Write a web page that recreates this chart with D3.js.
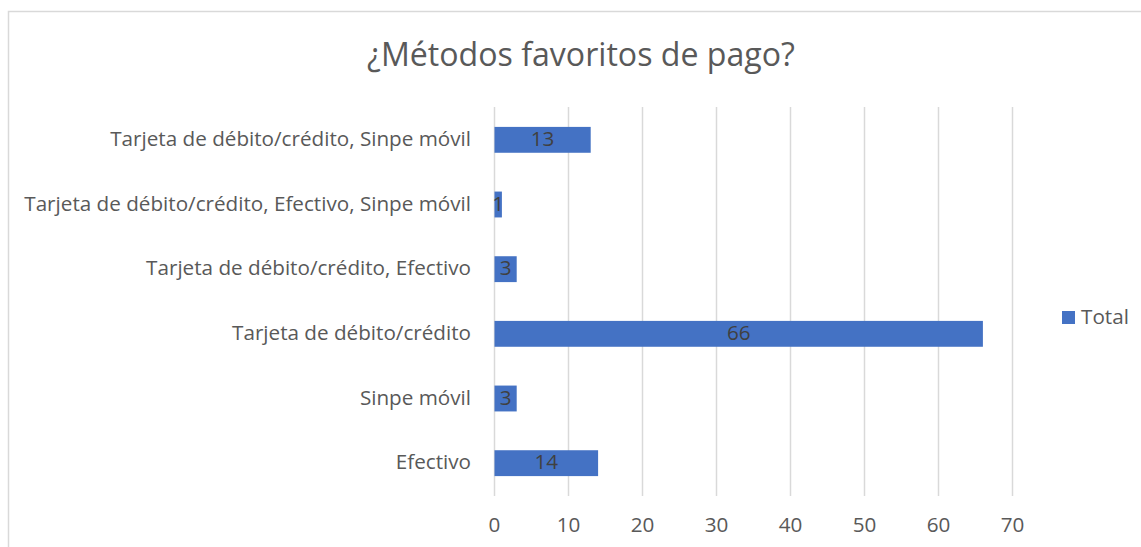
<!DOCTYPE html>
<html><head><meta charset="utf-8">
<script src="https://cdn.jsdelivr.net/npm/d3@7"></script>
<style>body{margin:0;background:#fff}svg{display:block;font-family:"Open Sans",sans-serif}</style>
</head><body>
<script>
const categories = ["Tarjeta de débito/crédito, Sinpe móvil","Tarjeta de débito/crédito, Efectivo, Sinpe móvil","Tarjeta de débito/crédito, Efectivo","Tarjeta de débito/crédito","Sinpe móvil","Efectivo"];
const values = [13,1,3,66,3,14];
const ticks = [0,10,20,30,40,50,60,70];
const seriesName = "Total";
const title = "¿Métodos favoritos de pago?";

const W=1141,H=547;
const svg=d3.select("body").append("svg").attr("width",W).attr("height",H);
svg.append("rect").attr("x",8.5).attr("y",11.5).attr("width",1200).attr("height",600).attr("fill","#fff").attr("stroke","#d9d9d9").attr("stroke-width",1.5);

function fit(sel, target){
  const w=sel.node().getComputedTextLength();
  const fs=+sel.attr("font-size");
  sel.attr("font-size",fs*target/w);
  return fs*target/w;
}

const t=svg.append("text").attr("x",581).attr("y",66).attr("text-anchor","middle").attr("font-size",28).attr("fill","#595959").text(title);
fit(t,428);

const x=d3.scaleLinear().domain([0,70]).range([494.5,1012.5]);
const y=d3.scaleBand().domain(categories).range([107.5,495.5]).paddingInner(0.6).paddingOuter(0.3);

const probe=svg.append("text").attr("font-size",18).text(categories[1]);
const catFs=fit(probe,447); probe.remove();

const g=svg.append("g");
g.selectAll("line.grid").data(ticks).join("line").attr("class","grid")
 .attr("x1",d=>x(d)).attr("x2",d=>x(d)).attr("y1",107).attr("y2",496)
 .attr("stroke","#d9d9d9").attr("stroke-width",1.5);

g.selectAll("rect.bar").data(values).join("rect").attr("class","bar")
 .attr("x",x(0)).attr("y",(d,i)=>y(categories[i])).attr("width",d=>x(d)-x(0)).attr("height",y.bandwidth())
 .attr("fill","#4472C4");

g.selectAll("text.lbl").data(values).join("text").attr("class","lbl")
 .attr("x",d=>(x(d)+x(0))/2).attr("y",(d,i)=>y(categories[i])+y.bandwidth()/2+6)
 .attr("text-anchor","middle").attr("font-size",catFs).attr("fill","#404040").text(d=>d);

g.selectAll("text.cat").data(categories).join("text").attr("class","cat")
 .attr("x",471).attr("y",d=>y(d)+y.bandwidth()/2+6)
 .attr("text-anchor","end").attr("font-size",catFs).attr("fill","#595959").text(d=>d);

g.selectAll("text.tick").data(ticks).join("text").attr("class","tick")
 .attr("x",d=>x(d)).attr("y",532).attr("text-anchor","middle").attr("font-size",catFs).attr("fill","#595959").text(d=>d);

svg.append("rect").attr("x",1062).attr("y",311).attr("width",13).attr("height",13).attr("fill","#4472C4");
svg.append("text").attr("x",1081).attr("y",324).attr("font-size",catFs).attr("fill","#595959").text(seriesName);
</script>
</body></html>
